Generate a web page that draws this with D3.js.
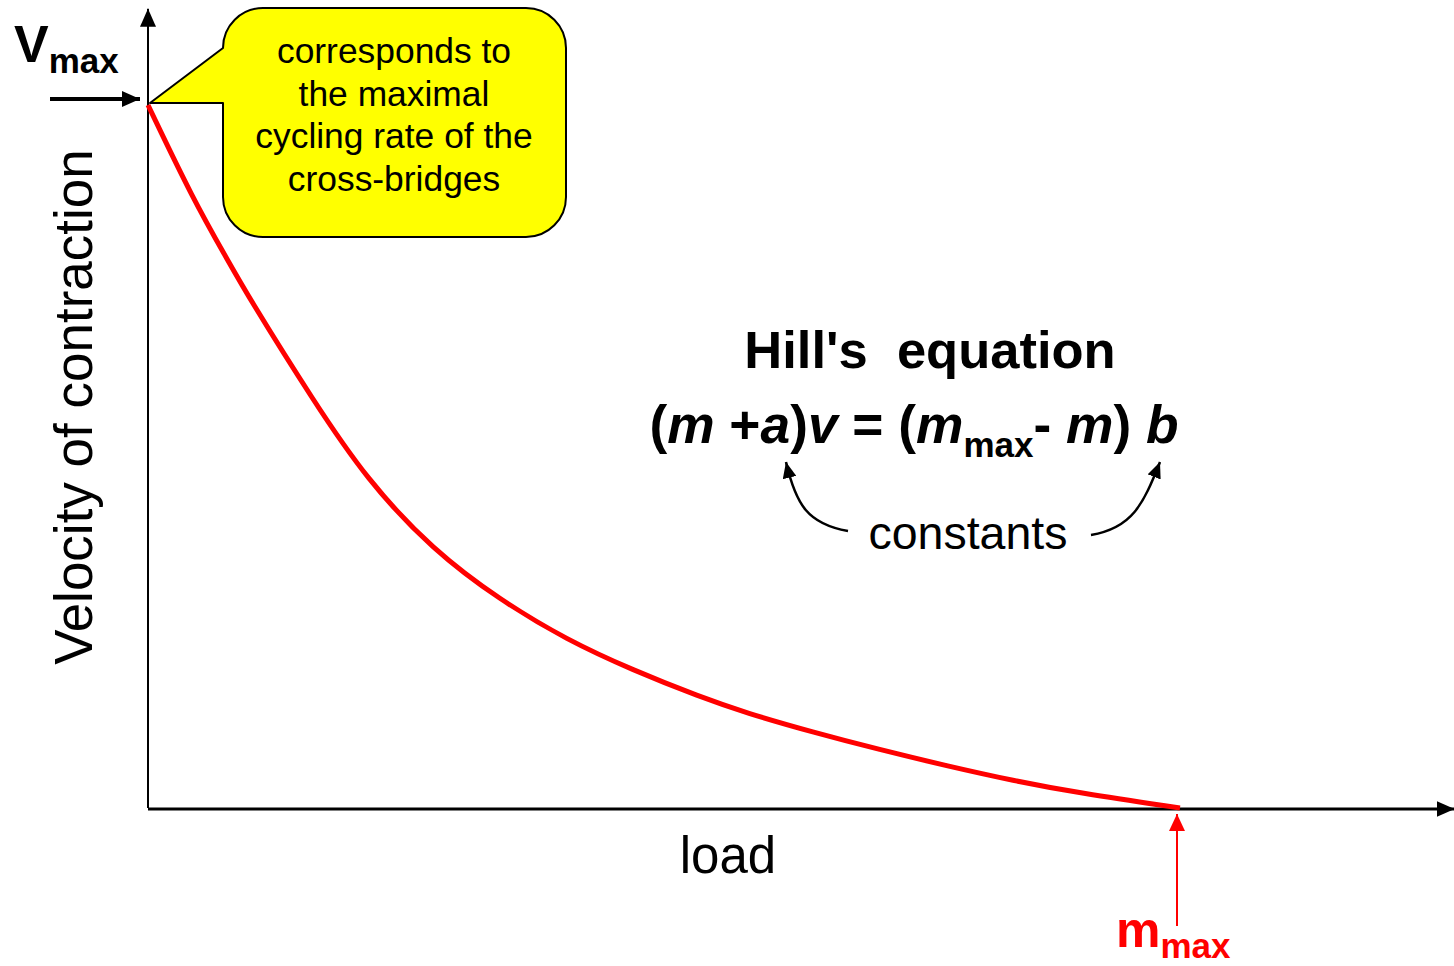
<!DOCTYPE html>
<html>
<head>
<meta charset="utf-8">
<script src="https://cdn.jsdelivr.net/npm/d3@7"></script>
<style>
  html, body { margin: 0; padding: 0; background: #fff; }
  svg { display: block; font-family: Arial, "Liberation Sans", sans-serif; }
  text { white-space: pre; }
</style>
</head>
<body>
<div id="chart"></div>
<script>
// values (load as fraction of m_max, velocity as fraction of Vmax)
const loadValues = [0, 0.044, 0.077, 0.099, 0.160, 0.212, 0.276, 0.341, 0.406, 0.470, 0.535, 0.580, 0.644, 0.709, 0.774, 0.838, 0.903, 1.0];
const velocityValues = [1.0, 0.865, 0.780, 0.723, 0.580, 0.467, 0.367, 0.296, 0.239, 0.196, 0.158, 0.135, 0.108, 0.083, 0.060, 0.039, 0.021, 0.0];
const calloutLines = ['corresponds to', 'the maximal', 'cycling rate of the', 'cross-bridges'];
const axisTitles = { x: 'load', y: 'Velocity of contraction' };

const width = 1454, height = 966;
const margin = { top: 105, right: 274, bottom: 158, left: 148 };

const svg = d3.select('#chart').append('svg')
  .attr('width', width)
  .attr('height', height);

const x = d3.scaleLinear().domain([0, 1]).range([margin.left, width - margin.right]);
const y = d3.scaleLinear().domain([0, 1]).range([height - margin.bottom, margin.top]);

// arrow markers
const defs = svg.append('defs');
function marker(id, color, w, h) {
  defs.append('marker')
    .attr('id', id)
    .attr('viewBox', `0 0 ${w} ${h}`)
    .attr('refX', w).attr('refY', h / 2)
    .attr('markerWidth', w).attr('markerHeight', h)
    .attr('markerUnits', 'userSpaceOnUse')
    .attr('orient', 'auto')
    .append('path')
    .attr('d', `M0,0L${w},${h / 2}L0,${h}Z`)
    .attr('fill', color);
}
marker('headBlack', '#000', 18, 16);
marker('headSmall', '#000', 16, 14);
marker('headRed', '#f00', 17, 16);

// axes
svg.append('line')
  .attr('x1', x(0)).attr('y1', y(0))
  .attr('x2', x(0)).attr('y2', y(1.137))
  .attr('stroke', '#000').attr('stroke-width', 2)
  .attr('marker-end', 'url(#headBlack)');
svg.append('line')
  .attr('x1', x(0)).attr('y1', y(0) + 1)
  .attr('x2', x(1.266)).attr('y2', y(0) + 1)
  .attr('stroke', '#000').attr('stroke-width', 3)
  .attr('marker-end', 'url(#headBlack)');

// Hill curve
const line = d3.line()
  .x((d, i) => x(loadValues[i]))
  .y(d => y(d))
  .curve(d3.curveBasis);
svg.append('path')
  .datum(velocityValues)
  .attr('fill', 'none')
  .attr('stroke', '#f00')
  .attr('stroke-width', 5)
  .attr('d', line);

// Vmax label and arrow
const vmax = svg.append('text').attr('x', 14).attr('y', 62)
  .attr('font-weight', 'bold').attr('fill', '#000');
vmax.append('tspan').attr('font-size', 52).text('V');
vmax.append('tspan').attr('font-size', 35).attr('dy', 11).text('max');
svg.append('line')
  .attr('x1', 50).attr('y1', y(1) - 6)
  .attr('x2', x(0) - 8).attr('y2', y(1) - 6)
  .attr('stroke', '#000').attr('stroke-width', 4)
  .attr('marker-end', 'url(#headBlack)');

// callout bubble
const bx0 = 223, bx1 = 566, by0 = 8, by1 = 237, r = 40;
const tipX = x(0) + 2, tipY = y(1) - 2;
const bubble = d3.path();
bubble.moveTo(bx0, by0 + r);
bubble.arcTo(bx0, by0, bx0 + r, by0, r);
bubble.lineTo(bx1 - r, by0);
bubble.arcTo(bx1, by0, bx1, by0 + r, r);
bubble.lineTo(bx1, by1 - r);
bubble.arcTo(bx1, by1, bx1 - r, by1, r);
bubble.lineTo(bx0 + r, by1);
bubble.arcTo(bx0, by1, bx0, by1 - r, r);
bubble.lineTo(bx0, tipY);
bubble.lineTo(tipX, tipY);
bubble.closePath();
svg.append('path')
  .attr('d', bubble.toString())
  .attr('fill', '#ffff00')
  .attr('stroke', '#000')
  .attr('stroke-width', 2)
  .attr('stroke-linejoin', 'round');

svg.append('g')
  .selectAll('text')
  .data(calloutLines)
  .join('text')
  .attr('x', 394)
  .attr('y', (d, i) => 63 + i * 42.5)
  .attr('text-anchor', 'middle')
  .attr('font-size', 35.4)
  .attr('fill', '#000')
  .text(d => d);

// axis titles
svg.append('text')
  .attr('transform', 'translate(92,407) rotate(-90)')
  .attr('text-anchor', 'middle')
  .attr('font-size', 53)
  .text(axisTitles.y);
svg.append('text')
  .attr('x', 728).attr('y', 873)
  .attr('text-anchor', 'middle')
  .attr('font-size', 51)
  .text(axisTitles.x);

// Hill's equation
svg.append('text')
  .attr('x', 930).attr('y', 368)
  .attr('text-anchor', 'middle')
  .attr('font-size', 52.5)
  .attr('font-weight', 'bold')
  .text("Hill's  equation");

const eq = svg.append('text')
  .attr('x', 914).attr('y', 443)
  .attr('text-anchor', 'middle')
  .attr('font-size', 53.3)
  .attr('font-weight', 'bold');
eq.append('tspan').text('(');
eq.append('tspan').attr('font-style', 'italic').text('m');
eq.append('tspan').text(' +');
eq.append('tspan').attr('font-style', 'italic').text('a');
eq.append('tspan').text(')');
eq.append('tspan').attr('font-style', 'italic').text('v');
eq.append('tspan').text(' = (');
eq.append('tspan').attr('font-style', 'italic').text('m');
eq.append('tspan').attr('font-size', 35).attr('dy', 14).text('max');
eq.append('tspan').attr('dy', -14).text('- ');
eq.append('tspan').attr('font-style', 'italic').text('m');
eq.append('tspan').text(') ');
eq.append('tspan').attr('font-style', 'italic').text('b');

svg.append('text')
  .attr('x', 968).attr('y', 549)
  .attr('text-anchor', 'middle')
  .attr('font-size', 46.5)
  .text('constants');

svg.append('path')
  .attr('d', 'M848,531 C808,524 796,505 786,462')
  .attr('fill', 'none').attr('stroke', '#000').attr('stroke-width', 2.5)
  .attr('marker-end', 'url(#headSmall)');
svg.append('path')
  .attr('d', 'M1091,535 C1132,528 1143,505 1160,462')
  .attr('fill', 'none').attr('stroke', '#000').attr('stroke-width', 2.5)
  .attr('marker-end', 'url(#headSmall)');

// m_max marker
svg.append('line')
  .attr('x1', x(1) - 3).attr('y1', 926)
  .attr('x2', x(1) - 3).attr('y2', y(0) + 6)
  .attr('stroke', '#f00').attr('stroke-width', 2)
  .attr('marker-end', 'url(#headRed)');
const mmax = svg.append('text').attr('x', 1116).attr('y', 947)
  .attr('font-weight', 'bold').attr('fill', '#f00');
mmax.append('tspan').attr('font-size', 50).text('m');
mmax.append('tspan').attr('font-size', 35).attr('dy', 11).text('max');
</script>
</body>
</html>
